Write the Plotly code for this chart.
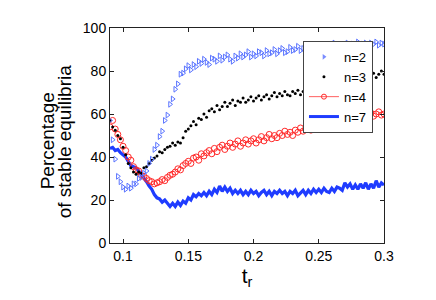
import plotly.graph_objects as go

# sampling grid of the control parameter t_r
T_START, T_STEP = 0.09, 0.002

n2 = [57, 48, 39, 31, 28.5, 26, 25, 26.5, 25.5, 27.5, 27.5, 30, 30.5, 32.5, 33.5, 37, 39, 43.5, 45.5, 49.5,
      52, 57, 59.5, 64.5, 67, 71.5, 74, 78.5, 79, 81,
      82.5, 80.5, 83, 82, 84.5, 83.5, 85.5, 84, 83, 86, 85.5, 84.5, 87, 85, 86.5, 87.5, 85.5, 84.5, 87, 86,
      88, 86.5, 87.5, 89, 86.5, 88, 87, 89, 88.5, 87, 89.5, 88, 88.5, 90, 88, 89.5, 90.5, 88.5, 89, 91,
      89.5, 90, 91.5, 89.5, 90.5, 91, 90, 92, 90.5, 91.5, 91, 92.5, 90.5, 91.5, 92, 91, 93, 91.5, 92, 92.5,
      91, 93, 92, 92.5, 91.5, 93.5, 92, 92.5, 93, 91.5, 93, 92.5, 93.5, 92, 93, 92.5]

n3 = [57, 54, 52.5, 50, 48.5, 44.5, 41, 37, 35, 33, 32, 33, 32.5, 35, 35.5, 37, 38.5, 39.5, 40.5, 42.5,
      42, 43.5, 44.5, 45, 46.5, 45.5, 47, 46.5, 49, 52,
      53, 54.5, 56.5, 55, 58, 57.5, 60, 58.5, 61.5, 62.5, 61, 64, 62, 63.5, 65.5, 63.5, 65, 66.5, 64, 66,
      65.5, 67.5, 65.5, 66.5, 68, 66, 67.5, 68.5, 66.5, 68, 69, 67, 68.5, 70, 68, 69.5, 68.5, 70.5, 69, 68.5,
      70.5, 69.5, 71, 69, 70.5, 71.5, 70, 71, 72.5, 70.5, 71.5, 72.5, 71, 73, 72, 73.5, 72.5, 74.5, 73, 75,
      74, 73.5, 75.5, 74.5, 76.5, 75, 77, 76, 78, 76.5, 77.5, 79, 77, 78.5, 80, 78.5]

n4 = [54, 57, 53, 50.5, 48, 45, 43, 40, 38.5, 35.5, 34, 33.5, 31.5, 31, 30, 29, 28.5, 27.5, 28, 28.5,
      29.5, 29, 30.5, 31.5, 32, 33, 34.5, 34, 36, 37,
      38, 37, 39.5, 40, 38.5, 41.5, 40.5, 42, 43, 41.5, 44, 42.5, 44.5, 45.5, 43.5, 45, 46.5, 44.5, 46, 47.5,
      45, 46.5, 48, 46, 47.5, 48.5, 46.5, 48, 49.5, 47.5, 49, 50.5, 48.5, 50, 49, 51, 50, 52, 50.5, 51.5,
      50, 52.5, 51.5, 53.5, 52, 53, 54.5, 52.5, 54, 55, 53.5, 55.5, 54, 56, 55, 57, 55.5, 57.5, 56.5, 58,
      56, 58.5, 57, 59, 58, 57.5, 59.5, 58.5, 60, 58.5, 60.5, 59, 60, 61, 59.5, 60]

n7 = [44, 44.5, 43, 43.5, 42, 41, 40, 38, 36, 35.5, 35, 33.5, 32, 30.5, 28.5, 26.5, 25, 22.5, 21, 20.5,
      19, 20, 18.5, 17, 18.5, 17, 19, 17.5, 19.5, 18.5, 21, 20, 22.5, 21.5, 23, 22, 23.5, 22, 24, 22.5,
      25, 23.5, 26.5, 24, 26, 24, 25.5, 23, 24.5, 23, 24.5, 22.5, 24, 22.5, 24.5, 23, 24, 22, 23.5, 24.5,
      22.5, 24, 22, 24, 23, 24.5, 23, 24, 22, 24, 23, 24.5, 22, 23.5, 24.5, 22.5, 24.5, 23, 25, 23.5,
      25, 23.5, 25.5, 24, 23.5, 25.5, 24, 26, 25.5, 24.5, 28, 26, 27.5, 25, 27, 25, 27.5, 25.5, 28, 25,
      27.5, 25.5, 29, 26, 28, 27]

x_ticks = [0.1, 0.15, 0.2, 0.25, 0.3]
x_tick_labels = ["0.1", "0.15", "0.2", "0.25", "0.3"]
y_ticks = [0, 20, 40, 60, 80, 100]


def tgrid(vals):
    return [round(T_START + T_STEP * i, 4) for i in range(len(vals))]


FONT = "Liberation Sans, Arial, sans-serif"
BLUE_M = "#5a74ff"
BLUE_L = "#1f3cff"
RED = "#ff2a2a"

fig = go.Figure()
fig.add_trace(go.Scatter(x=tgrid(n7), y=n7, mode="lines", name="n=7",
                         line=dict(color=BLUE_L, width=3.2), showlegend=False))
fig.add_trace(go.Scatter(x=tgrid(n4), y=n4, mode="markers", name="n=4", showlegend=False,
                         marker=dict(symbol="circle-open", size=6, color=RED, line=dict(width=1, color=RED))))
fig.add_trace(go.Scatter(x=tgrid(n3), y=n3, mode="markers", name="n=3", showlegend=False,
                         marker=dict(symbol="circle", size=3, color="black")))
fig.add_trace(go.Scatter(x=tgrid(n2), y=n2, mode="markers", name="n=2", showlegend=False,
                         marker=dict(symbol="triangle-right-open", size=5, color=BLUE_M,
                                     line=dict(width=1, color=BLUE_M))))

# legend entries
fig.add_trace(go.Scatter(x=[None], y=[None], mode="markers", name="n=2",
                         marker=dict(symbol="triangle-right", size=5, color="#7a8cff")))
fig.add_trace(go.Scatter(x=[None], y=[None], mode="markers", name="n=3",
                         marker=dict(symbol="circle", size=3, color="black")))
fig.add_trace(go.Scatter(x=[None], y=[None], mode="lines+markers", name="n=4",
                         line=dict(color="#ff6060", width=1),
                         marker=dict(symbol="circle-open", size=5, color=RED)))
fig.add_trace(go.Scatter(x=[None], y=[None], mode="lines", name="n=7",
                         line=dict(color=BLUE_L, width=3)))

axis_common = dict(showline=True, linecolor="#222", linewidth=1, mirror="ticks",
                   ticks="inside", ticklen=4, tickcolor="#222", showgrid=False, zeroline=False,
                   tickfont=dict(family=FONT, size=14, color="black"))

# the page body adds an 8px offset, so the figure is 8px smaller and the margins are shifted
fig.update_layout(
    width=428, height=292,
    margin=dict(l=102, r=52, t=15, b=57),
    paper_bgcolor="white", plot_bgcolor="white",
    xaxis=dict(range=[0.09, 0.3], tickvals=x_ticks, ticktext=x_tick_labels,
               title=dict(text="t<sub>r</sub>", standoff=4,
                          font=dict(family=FONT, size=21, color="black")),
               **axis_common),
    yaxis=dict(range=[0, 100], tickvals=y_ticks, **axis_common),
    legend=dict(x=0.832, xanchor="center", y=0.94, yanchor="top",
                bgcolor="white", bordercolor="#444", borderwidth=1,
                font=dict(family=FONT, size=13, color="black"),
                itemwidth=30, tracegroupgap=0),
    showlegend=True,
)

for txt, xp in [("Percentage", 47), ("of stable equilibria", 64)]:
    fig.add_annotation(text=txt, textangle=-90, xref="paper", yref="paper",
                       x=(xp - 110) / 274, y=(243 - 139) / 220, xanchor="center", yanchor="middle",
                       showarrow=False,
                       font=dict(family=FONT, size=19, color="black"))

fig.write_html("out.html")
